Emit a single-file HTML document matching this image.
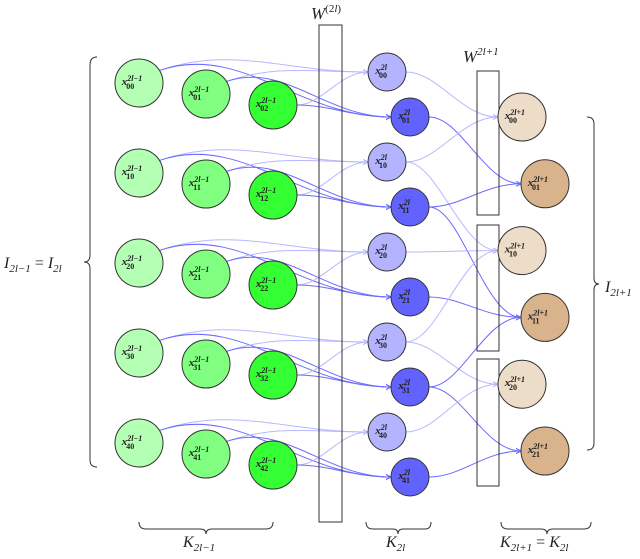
<!DOCTYPE html>
<html><head><meta charset="utf-8"><style>
body{margin:0;background:#fff}
svg text{font-family:"Liberation Serif",serif;font-style:italic;fill:#222}
.n{font-size:11px;font-weight:bold}
.s{font-size:8px;font-weight:bold}
</style></head><body>
<svg id="g" width="640" height="554" viewBox="0 0 640 554" xmlns="http://www.w3.org/2000/svg">
<defs>
<marker id="al" markerWidth="6" markerHeight="6" refX="5" refY="3" orient="auto" markerUnits="userSpaceOnUse"><path d="M0,0.5 L5,3 L0,5.5" fill="none" stroke="#b8b8ff" stroke-width="1"/></marker>
<marker id="ad" markerWidth="6" markerHeight="6" refX="5" refY="3" orient="auto" markerUnits="userSpaceOnUse"><path d="M0,0.5 L5,3 L0,5.5" fill="none" stroke="#6b6bff" stroke-width="1"/></marker>
</defs>
<g id="edges" fill="none"></g>
<rect x="319" y="25" width="23" height="497" fill="none" stroke="#333" stroke-width="1"/>
<rect x="477" y="71" width="22" height="144" fill="none" stroke="#333" stroke-width="1"/>
<rect x="477" y="225" width="22" height="126" fill="none" stroke="#333" stroke-width="1"/>
<rect x="477" y="359" width="22" height="127" fill="none" stroke="#333" stroke-width="1"/>
<g id="nodes"></g>
<text x="311" y="19" font-size="17">W<tspan font-size="11" dy="-7" font-style="normal">(2</tspan><tspan font-size="11">l</tspan><tspan font-size="11" font-style="normal">)</tspan></text>
<text x="463" y="62" font-size="17">W<tspan font-size="11" dy="-7">2l+1</tspan></text>
<path d="M97,57 Q90,57 90,65 L90,255 Q90,262 84,262 Q90,262 90,269 L90,460 Q90,467 97,467" fill="none" stroke="#333"/>
<text x="4" y="268" font-size="16">I<tspan font-size="11" dy="4">2l−1</tspan><tspan dy="-4" font-style="normal"> = </tspan>I<tspan font-size="11" dy="4">2l</tspan></text>
<path d="M587,117 Q594,117 594,124 L594,278 Q594,284 599,284 Q594,284 594,290 L594,443 Q594,450 587,450" fill="none" stroke="#333"/>
<text x="605" y="292" font-size="16">I<tspan font-size="11" dy="4">2l+1</tspan></text>
<path d="M139,522 Q139,529 146,529 L200,529 Q206,529 206,534 Q206,529 212,529 L266,529 Q273,529 273,522" fill="none" stroke="#333"/>
<text x="183" y="547" font-size="16">K<tspan font-size="11" dy="4">2l−1</tspan></text>
<path d="M366,522 Q366,529 373,529 L393,529 Q398,529 398,534 Q398,529 403,529 L425,529 Q431,529 431,522" fill="none" stroke="#333"/>
<text x="386" y="547" font-size="16">K<tspan font-size="11" dy="4">2l</tspan></text>
<path d="M501,522 Q501,529 508,529 L541,529 Q547,529 547,534 Q547,529 553,529 L584,529 Q591,529 591,522" fill="none" stroke="#333"/>
<text x="500" y="547" font-size="16">K<tspan font-size="11" dy="4">2l+1</tspan><tspan dy="-4" font-style="normal"> = </tspan>K<tspan font-size="11" dy="4">2l</tspan></text>
</svg>
<script>
var E=document.getElementById('edges'),N=document.getElementById('nodes'),ns='http://www.w3.org/2000/svg';
function el(p,t,a){var e=document.createElementNS(ns,t);for(var k in a)e.setAttribute(k,a[k]);p.appendChild(e);return e}
var green=[],blue=[],brown=[];
var gc=['#b3ffb3','#80ff80','#33ff33'];
for(var i=0;i<5;i++)for(var c=0;c<3;c++)green.push({x:139+67*c,y:83+11*c+90*i,r:24,f:gc[c],sub:''+i+c,sup:'2l−1',g:i,c:c});
for(var n=0;n<10;n++){var d=n%2;blue.push({x:387+23*d,y:72+45*n,r:19,f:d?'#6262ff':'#b3b3ff',sub:''+(n>>1)+d,sup:'2l',d:d,g:n>>1});}
for(var n=0;n<6;n++){var d=n%2;brown.push({x:522+23*d,y:117+66.8*n,r:24,f:d?'#d9b38c':'#ecdcc8',sub:''+(n>>1)+d,sup:'2l+1',d:d,g:n>>1});}
function edge(a,b,dark,up){var ang=up?-0.55:0,x1=a.x+a.r*Math.cos(ang),y1=a.y+a.r*Math.sin(ang),x2=b.x-b.r,y2=b.y;var dx=x2-x1;
var c1x=x1+dx*0.35,c1y=y1-(up?dx*0.12:0);
el(E,'path',{d:'M'+x1+','+y1+' C'+c1x+','+c1y+' '+(x2-dx*0.4)+','+y2+' '+x2+','+y2,stroke:dark?'#6b6bff':'#b8b8ff','stroke-width':1,'marker-end':dark?'url(#ad)':'url(#al)'});}
green.forEach(function(g){blue.forEach(function(b){if(b.g==g.g)edge(g,b,b.d,g.c<2)})});
blue.forEach(function(b,n){var i=b.g;var ks=[Math.floor(i/2),Math.ceil(i/2)];if(ks[0]==ks[1])ks=[ks[0]];
ks.forEach(function(k){if(k>2)k=2;edge(b,brown[2*k+b.d],b.d,false)});});
green.concat(blue,brown).forEach(function(o){el(N,'circle',{cx:o.x,cy:o.y,r:o.r,fill:o.f,stroke:'#333','stroke-width':1});
var t=el(N,'text',{x:o.x-o.r*(o.r>20?0.72:0.62),y:o.y+2,'class':'n'});t.textContent='x';
var s1=el(t,'tspan',{'class':'s',dy:-4});s1.textContent=o.sup;
var s2=el(t,'tspan',{'class':'s',dy:8,dx:-(o.sup.length*4)});s2.textContent=o.sub;s2.setAttribute('font-style','normal');});
</script>
</body></html>
